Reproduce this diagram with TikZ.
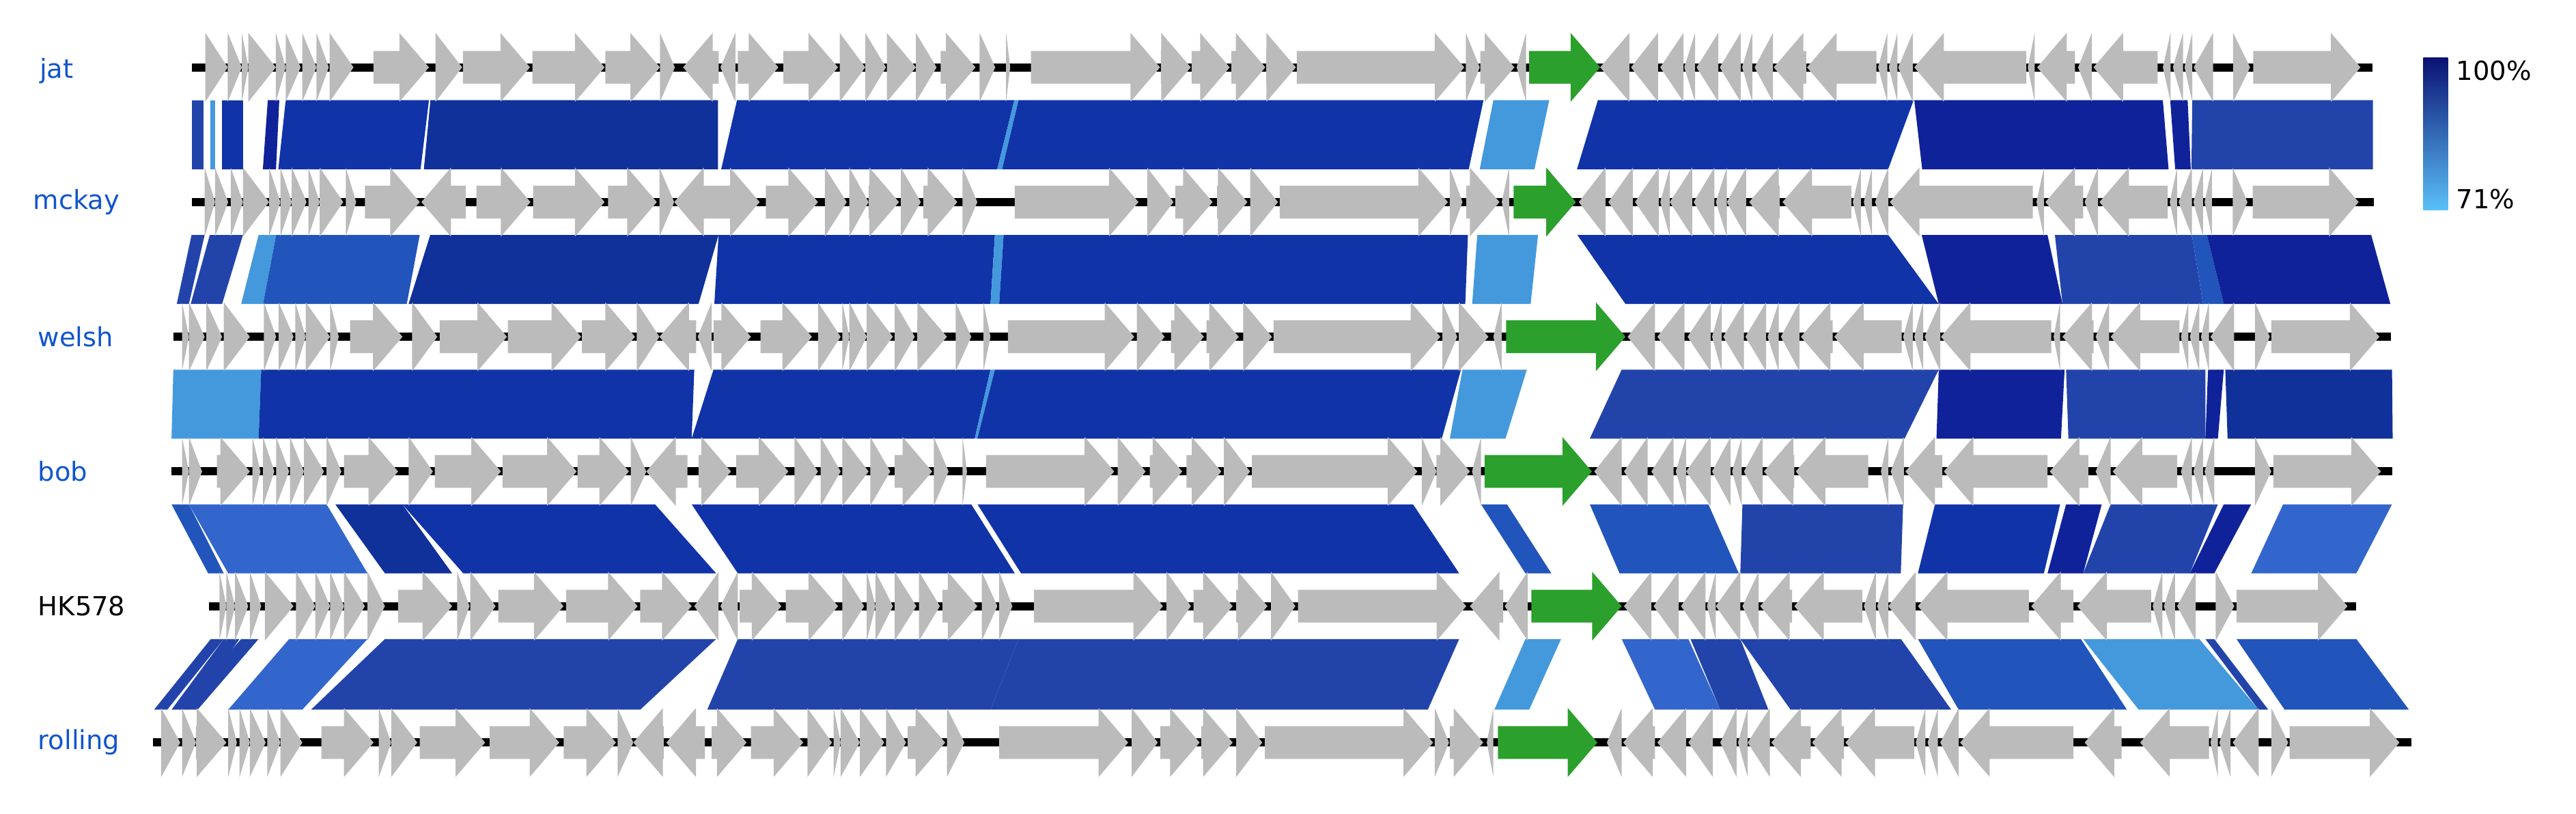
\documentclass[tikz,border=0pt]{standalone}
\usepackage{fontspec}
\setmainfont{DejaVu Sans}
\definecolor{gg}{HTML}{BBBBBB}
\definecolor{grn}{HTML}{2CA02C}
\definecolor{lab}{HTML}{1155CC}
\definecolor{dk}{HTML}{102299}
\definecolor{dk2}{HTML}{10309A}
\definecolor{mb}{HTML}{1033A8}
\definecolor{mb2}{HTML}{2244AA}
\definecolor{lb}{HTML}{2255BB}
\definecolor{l3}{HTML}{3366CC}
\definecolor{lt}{HTML}{4499DD}
\definecolor{ctop}{HTML}{0A1172}
\definecolor{cbot}{HTML}{5BC0F8}
\newcommand\gn[4][gg]{%
 \pgfmathsetmacro\gL{#3-#2}%
 \pgfmathsetmacro\gH{min(18,abs(\gL))*sign(\gL)}%
 \pgfmathsetmacro\gB{#3-\gH}%
 \fill[#1] (#2,#4-10) -- (\gB,#4-10) -- (\gB,#4-21) -- (#3,#4) -- (\gB,#4+21) -- (\gB,#4+10) -- (#2,#4+10) -- cycle;}
\newcommand\blk[7]{\fill[#7] (#1,#5) -- (#2,#5) -- (#4,#6) -- (#3,#6) -- cycle;}
\begin{document}
\begin{tikzpicture}[x=1pt,y=-1pt,lbl/.style={anchor=west,font=\fontsize{16}{18}\selectfont,text=lab,inner sep=0pt}]
\useasboundingbox (0,0) rectangle (1568,495.5);
% ---------- blocks jat-mckay
\foreach \a/\b/\c/\d/\col in {117/124/117/124/mb2,128/131/128/131/lt,135/148/135/148/mb,163/170/160/168/dk,173.9/261.1/169.4/256/mb,262/437/258/437/dk2,448.6/617.4/439/607/mb,617.4/620/607/610/lt,620/903/610/894/mb,909/943/900.7/934/lt,972.6/1164.8/959.9/1149.3/mb,1165.2/1316.5/1170/1320/dk,1321/1331.6/1324/1333.5/dk,1334.4/1444.4/1333.9/1444.4/mb2}
 {\blk{\a}{\b}{\c}{\d}{61}{103}{\col}}
% mckay-welsh
\foreach \a/\b/\c/\d/\col in {116.6/124.6/107.6/115/mb2,127.7/147.9/116.1/135.2/mb2,157.4/168.1/146.8/160.1/lt,168.1/255.5/160.1/247.6/lb,261.9/437.4/248.7/425.2/dk2,437.4/605.6/434.8/602.9/mb,605.6/610.9/602.9/608.2/lt,610.9/893.5/608.2/891.9/mb,899.2/936.2/896.1/931.7/lt,960.1/1149.4/989.4/1180.1/mb,1169.7/1246.3/1180.1/1255.4/dk,1250.8/1334.2/1255.4/1341/mb2,1334.2/1343.3/1341/1353.6/lb,1343.3/1443.3/1353.6/1455/dk}
 {\blk{\a}{\b}{\c}{\d}{143}{185}{\col}}
% welsh-bob
\foreach \a/\b/\c/\d/\col in {105.5/159/104.4/157.4/lt,159/422.6/157.4/421/mb,434.3/602.9/421/593.3/mb,602.9/605.6/593.3/594.9/lt,605.6/889.3/594.9/877.6/mb,890.2/929.4/882.5/916.4/lt,987.1/1180.1/967.7/1159.3/mb2,1180.1/1256.7/1178.7/1254.5/dk,1257.6/1342.4/1259/1342.4/mb2,1344/1353.6/1342.4/1350/dk,1354.5/1456/1355.9/1456.4/dk2}
 {\blk{\a}{\b}{\c}{\d}{225}{267}{\col}}
% bob-HK
\foreach \a/\b/\c/\d/\col in {104.4/115/126.7/136.2/lb,115/198.8/138.9/223.7/l3,204.1/244.9/234.3/275.2/dk2,244.9/398.7/282/435.9/mb,421/591.2/449.1/617.7/mb,595/860.1/621.5/888.2/mb,901.5/917.3/928.5/944.3/lb,967.7/1039.9/985.8/1058.4/lb,1060.6/1158.4/1059.3/1157/mb2,1177.8/1254/1167.4/1244.1/mb,1257.6/1279.3/1246.3/1268/dk,1284.7/1350/1268/1332.9/mb2,1353.6/1370.3/1332.9/1347.8/dk,1389.7/1456/1370.3/1434.3/l3}
 {\blk{\a}{\b}{\c}{\d}{307}{349}{\col}}
% HK-rolling
\foreach \a/\b/\c/\d/\col in {128.3/136.2/93.8/101.8/mb2,136.2/145.8/104.4/115/mb2,146.8/157.4/108.7/120.3/mb2,176/223.7/138.9/184/l3,234.3/435.9/189.3/389.7/mb2,449.1/619.9/430.5/602.9/mb2,619.9/888.2/602.9/869.1/mb2,928.5/950.2/909.6/930.8/lt,987.1/1027.7/1007.4/1047.1/l3,1029/1059.3/1047.1/1076.4/mb2,1059.3/1157.1/1089.9/1187.7/mb2,1167.4/1266.6/1192.2/1294.6/lb,1268/1338.7/1301.8/1374.8/lt,1342.4/1347.8/1374.8/1380.7/mb2,1361.3/1434.3/1390.6/1466.3/lb}
 {\blk{\a}{\b}{\c}{\d}{389}{432}{\col}}
% ---------- backbone lines
\foreach \s/\e/\y in {117/1444/41,117/1445/123,105.5/1455.5/205,104.4/1456/287,127/1434/369,93.3/1468/452}
 {\fill[black] (\s,\y-2.5) rectangle (\e,\y+2.5);}
% ---------- genes jat
\foreach \a/\b in {125/138.6,138.6/147.2,147.2/151.2,151.2/167.9,167.9/173.9,173.9/183,184/192.6,192.6/200.1,200.6/215.2,227.3/261.1,265.1/281.3,281.8/322.6,324.1/368,368.5/401.7,401.7/410.8,437.5/415.8,447.6/438.5,449.1/473.8,476.8/510.1,511.1/526.7,526.7/539.3,539.8/557.5,557.5/570.1,572.6/593.8,596.3/605.8,612.4/614.9,627.5/706.1,706.6/724.8,725.3/748.5,749.5/770.2,770.7/788.8,789.3/891.3,892.2/900.7,901.1/921.8,928.9/923.2,991.8/974,1009.2/992.8,1024.7/1010.6,1031.8/1025.2,1045.9/1032.7,1059.5/1046.8,1066.6/1060.4,1079.2/1068,1099.4/1079.7,1142.2/1099.9,1148.8/1143.2,1154.9/1149.7,1164.3/1155.4,1233.4/1165.2,1238.5/1234.3,1263/1240,1273.3/1264.9,1313.3/1274.3,1321.2/1316.5,1328.8/1322.6,1334.4/1329.7,1347.1/1335.3,1359.3/1369.6,1371.5/1436.8}
 {\gn{\a}{\b}{41}}
\gn[grn]{930.8}{974}{41}
% mckay
\foreach \a/\b in {124.6/130.9,130.9/138.9,140.5/147.9,147.9/163.8,163.8/170.7,170.7/177.6,177.6/186.6,187.7/194.6,194.6/208.9,210.5/216.8,222.1/255.5,283.6/256.5,290/322.9,324.5/368,370.1/399.8,401.4/410.4,437.4/410.4,437.4/462.4,466.1/497.9,502.1/515.4,517/528.7,528.7/547.2,548.3/560.5,562.1/582.7,585.9/594.9,617.7/693,698.3/714.3,715.3/738.1,740.8/759.3,761/777.9,779/881.3,882.5/890.2,892.5/912.7,918.6/914.1,977.2/961,993.9/979,1009.7/995.2,1016.4/1010.6,1030/1016.4,1043.5/1030.9,1051.1/1044.4,1062.9/1051.1,1083.2/1064.7,1126.9/1085,1132.7/1127.8,1139.5/1134.5,1149.4/1141.3,1237.3/1150.3,1244.1/1239.6,1268/1245,1277/1268.9,1319.4/1277.9,1325.2/1320.7,1334.2/1326.1,1341/1335.1,1346.4/1341.9,1359/1368,1371.2/1435.7}
 {\gn{\a}{\b}{123}}
\gn[grn]{921.3}{959.2}{123}
% welsh
\foreach \a/\b in {110.8/115,115/124.6,125.6/135.2,136.2/152.1,160.6/168.1,169.6/178.7,179.7/186.1,186.1/200.9,200.9/206.2,213.1/245,250.8/266.2,267.7/308.6,309.1/353.7,354.2/386.5,387.6/401.4,423.7/401.4,433.2/424.7,434.3/457.1,462.9/494.2,497.9/511.7,512.7/517,517/527.6,527.6/543.5,544.6/556.8,558.3/576.4,581.7/591.2,598.6/602.9,613.5/690.4,692/708.9,712.7/732.8,734.4/754,756.7/774.2,775.2/876.7,878/887,888/906,914/909,1007.4/990.7,1025.4/1008.8,1041.2/1027.2,1048/1042.1,1061.5/1048.9,1075/1062.4,1082.7/1075.9,1095.3/1084,1115.6/1096.2,1157.5/1116.5,1164.3/1158.4,1170.6/1165.2,1181/1171.5,1248.6/1181.4,1254/1250,1274.3/1255.4,1283.8/1275.6,1326.6/1284.7,1332/1327.5,1338.7/1332.9,1344.6/1339.7,1359.9/1345.5,1372.6/1381.6,1382.5/1448.3}
 {\gn{\a}{\b}{205}}
\gn[grn]{916.8}{989.4}{205}
% bob
\foreach \a/\b in {110.8/115,115/123,132/152.1,153.7/158.5,160.1/167,168.1/176,176.5/185,185/197.2,198.8/207.8,209.4/242.3,248.7/263.5,264.6/304.9,305.9/351,351.5/382.8,383.9/393.4,418.4/393.4,425.2/444.9,448.1/479.9,483.6/497.9,499.5/511.7,512.7/528.7,529.7/541.9,544.6/567.4,568.4/577.4,585.9/588.6,600.2/678.2,680.3/697.3,699.9/719.6,722.2/743.4,745/760.9,762/862.7,865.4/874.4,874.4/894.7,901.5/896,987.1/970.4,1002.9/988.5,1018.7/1005.2,1026.3/1020,1041.2/1026.3,1053.4/1042.1,1060.2/1054.3,1072.8/1061.5,1092.2/1073.7,1137.2/1093.1,1149.4/1144.9,1158.9/1150.8,1182.3/1159.8,1246.3/1183.2,1271.1/1247.7,1284.7/1275.6,1325.2/1286,1334.2/1327.5,1341/1335.1,1347.8/1341.9,1372.6/1382.5,1383.8/1449.2}
 {\gn{\a}{\b}{287}}
\gn[grn]{903.7}{969}{287}
% HK578
\foreach \a/\b in {133.6/137.8,137.8/143.1,143.1/151.1,152.1/159,161.2/178.7,180.2/191.9,191.9/200.9,200.9/209.4,209.4/222.1,223.7/234.3,242.3/275.2,278.3/285.8,286.3/301.7,303.3/343,344.6/388.1,389.7/421,437.4/422.6,449.1/438.5,450.2/475.6,478.3/510.1,512.7/526,527.6/532.9,532.9/543.5,544.6/557.8,559.4/572.1,573.7/594.9,597.6/607.1,608.2/616.2,629.4/707.9,710/724.9,726.5/750.3,752.5/771.5,773.6/788.5,790.1/892.5,915/894.7,929.9/915.9,1005.2/988.5,1021.8/1006.5,1038.1/1023.2,1044.4/1039,1059.3/1044.4,1070.5/1060.6,1090.8/1071.4,1133.6/1092.2,1141.8/1134.5,1149.4/1142.6,1166.1/1149.4,1235/1167.4,1262.1/1236.4,1309.4/1264.4,1316.2/1310.3,1323.9/1317.1,1336.5/1325.2,1348.7/1360,1361.3/1428.9}
 {\gn{\a}{\b}{369}}
\gn[grn]{932.1}{987.1}{369}
% rolling
\foreach \a/\b in {98.1/109.7,110.8/119.3,119.3/137.8,138.9/144.2,145.8/152.1,152.1/161.7,162.7/170.7,170.7/184,195.6/227.4,230.6/238.1,238.1/254,255.5/295.3,298/340.4,343.1/374.9,375.9/385.5,404/385.5,429/405.6,433.2/454.4,457.1/488.9,491.5/506.4,507.4/511.7,511.7/523.4,523.4/538.2,539.3/551.5,552.5/575.3,576.4/587,608.2/686.7,688.8/704.7,706.3/730.2,731.2/750.3,752.5/768.3,769.9/872.3,873.3/882,882.5/902.8,909/905,987.1/978.1,1007.4/988,1026.3/1008.8,1042.6/1027.7,1057/1047.1,1063.8/1057.9,1077.3/1063.8,1102.1/1078.2,1122.4/1103,1165.2/1123.3,1172/1166.1,1179.6/1173.3,1192.2/1181,1262.1/1193.1,1291.4/1268.9,1344.6/1302.7,1350/1345.5,1357.7/1350.9,1374.8/1359,1382.5/1392.8,1393.7/1460.5}
 {\gn{\a}{\b}{452}}
\gn[grn]{911.8}{972.3}{452}
% ---------- labels
\node[lbl] (ljat) at (24,43) {jat};
\node[lbl] (lmck) at (20,123) {mckay};
\node[lbl] (lwel) at (23,205) {welsh};
\node[lbl] (lbob) at (23,287) {bob};
\node[lbl,text=black] (lhk) at (23,369) {HK578};
\node[lbl] (lrol) at (23,452) {rolling};
% ---------- colour bar
\shade[top color=ctop,bottom color=cbot] (1475,35) rectangle (1490,128);
\node[lbl,text=black] (c100) at (1495,43) {100\%};
\node[lbl,text=black] (c71) at (1495,121) {71\%};
\end{tikzpicture}
\end{document}
